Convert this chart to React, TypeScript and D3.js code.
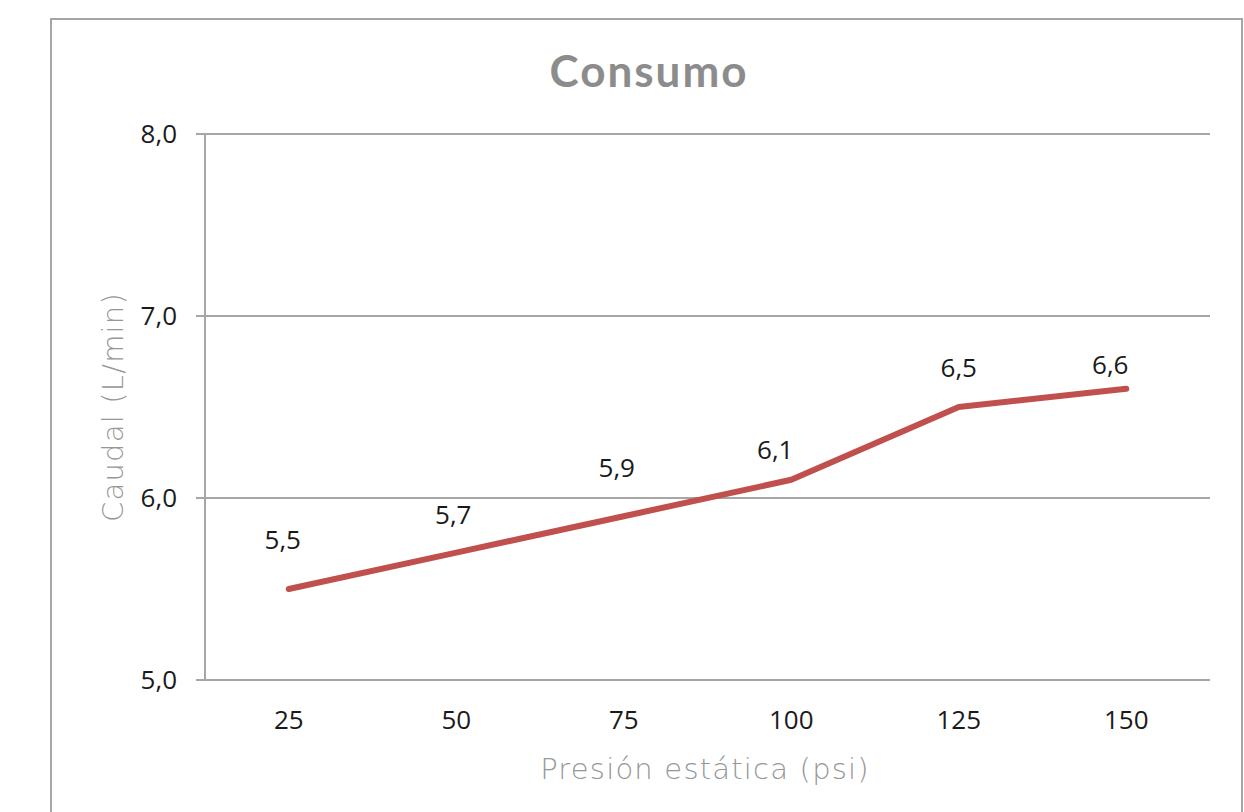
import React from 'react';
import * as d3 from 'd3';

// chart data
const pressures = ['25', '50', '75', '100', '125', '150'];
const flowValues = [5.5, 5.7, 5.9, 6.1, 6.5, 6.6];
const yTicks = [5, 6, 7, 8];
// hand-placed data label nudges (as in the original sheet)
const labelDx = [-6, -3, -7, -16, 0, -16];
const labelDy = [-40, -29, -39, -21, -30, -15];

const width = 1244;
const height = 812;
const plot = { left: 205, right: 1210, top: 134, bottom: 680 };

const fmt = (v: number) => v.toFixed(1).replace('.', ',');

export default function App() {
  const x = d3.scaleBand().domain(pressures).range([plot.left, plot.right]);
  const y = d3.scaleLinear().domain([5, 8]).range([plot.bottom, plot.top]);
  const cx = (p: string) => (x(p) ?? 0) + x.bandwidth() / 2;

  const line = d3.line<number>()
    .x((_, i) => cx(pressures[i]))
    .y(d => y(d));

  const grid = '#a6a6a6';

  return (
    <svg
      width={width}
      height={height}
      style={{ position: 'absolute', left: 0, top: 0, background: '#fff' }}
    >
      {/* chart frame */}
      <rect x={51} y={19} width={1191} height={820} fill="#fff" stroke={grid} strokeWidth={2} />

      <text
        x={649}
        y={87}
        textAnchor="middle"
        fontFamily="Lato"
        fontWeight="bold"
        fontSize={44}
        letterSpacing={2}
        fill="#8c8c8c"
      >
        Consumo
      </text>

      {/* gridlines + y ticks */}
      {yTicks.map(t => (
        <g key={t}>
          <line x1={plot.left - 9} x2={plot.right} y1={y(t)} y2={y(t)} stroke={grid} strokeWidth={2} />
          <text
            x={177}
            y={y(t) + 9}
            textAnchor="end"
            fontFamily="Open Sans"
            fontSize={26}
            fill="#1a1a1a"
          >
            {fmt(t)}
          </text>
        </g>
      ))}
      <line x1={plot.left} x2={plot.left} y1={plot.top} y2={plot.bottom} stroke={grid} strokeWidth={2} />

      {/* x tick labels */}
      {pressures.map(p => (
        <text
          key={p}
          x={cx(p)}
          y={729}
          textAnchor="middle"
          fontFamily="Open Sans"
          fontSize={26}
          fill="#1a1a1a"
        >
          {p}
        </text>
      ))}

      <path
        d={line(flowValues) ?? ''}
        fill="none"
        stroke="#c0504d"
        strokeWidth={6}
        strokeLinecap="round"
        strokeLinejoin="round"
      />

      {flowValues.map((v, i) => (
        <text
          key={i}
          x={cx(pressures[i]) + labelDx[i]}
          y={y(v) + labelDy[i]}
          textAnchor="middle"
          fontFamily="Open Sans"
          fontSize={26}
          fill="#1a1a1a"
        >
          {fmt(v)}
        </text>
      ))}

      <text
        x={705}
        y={779}
        textAnchor="middle"
        fontFamily="DejaVu Sans"
        fontWeight={200}
        fontSize={29}
        letterSpacing={1.2}
        fill="#979797"
      >
        Presión estática (psi)
      </text>
      <text
        transform="translate(123,407) rotate(-90)"
        textAnchor="middle"
        fontFamily="DejaVu Sans"
        fontWeight={200}
        fontSize={29}
        letterSpacing={1.2}
        fill="#979797"
      >
        Caudal (L/min)
      </text>
    </svg>
  );
}
